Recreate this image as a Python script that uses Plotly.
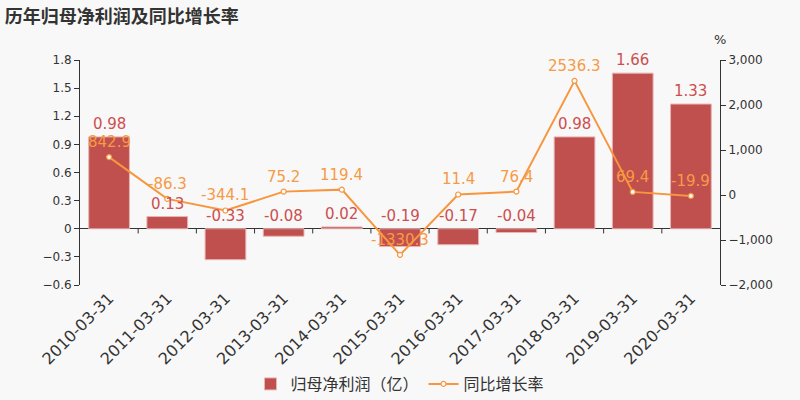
import plotly.graph_objects as go

# data
dates = ["2010-03-31", "2011-03-31", "2012-03-31", "2013-03-31", "2014-03-31",
         "2015-03-31", "2016-03-31", "2017-03-31", "2018-03-31", "2019-03-31",
         "2020-03-31"]
profit = [0.98, 0.13, -0.33, -0.08, 0.02, -0.19, -0.17, -0.04, 0.98, 1.66, 1.33]
growth = [842.9, -86.3, -344.1, 75.2, 119.4, -1330.3, 11.4, 76.4, 2536.3, 69.4, -19.9]

bar_color = "#c0504d"
line_color = "#f7963f"
font_family = "DejaVu Sans, Noto Sans CJK SC"

fig = go.Figure()
fig.add_trace(go.Bar(
    x=dates, y=profit, name="归母净利润（亿）",
    marker=dict(color=bar_color, line=dict(color="#e8b4b4", width=1)),
    width=0.7,
))
fig.add_trace(go.Scatter(
    x=dates, y=growth, name="同比增长率", yaxis="y2",
    mode="lines+markers",
    line=dict(color=line_color, width=2),
    marker=dict(size=5, color="white", line=dict(color=line_color, width=1.2)),
))

# value labels
for d, v in zip(dates, profit):
    fig.add_annotation(x=d, y=max(v, 0), yref="y", text=f"{v:.2f}",
                       showarrow=False, yshift=13,
                       font=dict(size=15, color="#cc4f4f", family=font_family))
for d, v in zip(dates, growth):
    fig.add_annotation(x=d, y=v, yref="y2", text=f"{v:.1f}",
                       showarrow=False, yshift=15,
                       font=dict(size=15, color="#f79a45", family=font_family))

# small ticks on the zero line between categories
for i in range(1, len(dates)):
    fig.add_shape(type="line", xref="x", yref="y",
                  x0=i - 0.5, x1=i - 0.5, y0=0, y1=-0.05,
                  line=dict(color="#333333", width=1))

fig.add_annotation(text="%", xref="paper", yref="paper", x=1.0, y=1.05,
                   xanchor="center", yanchor="bottom", showarrow=False,
                   font=dict(size=13, color="#333333", family=font_family))

fig.update_layout(
    width=800, height=400,
    paper_bgcolor="#f8f8f8", plot_bgcolor="#f8f8f8",
    margin=dict(l=80, r=80, t=60, b=115),
    font=dict(family=font_family, color="#333333"),
    title=dict(text="<b>历年归母净利润及同比增长率</b>", x=0.006, xref="container",
               y=0.958, yref="container", xanchor="left", yanchor="middle",
               font=dict(size=18, color="#333333",
                         family="Noto Sans CJK SC")),
    bargap=0.3,
    showlegend=True,
    legend=dict(orientation="h", x=0.5, xanchor="center", xref="container",
                y=0.04, yanchor="middle", yref="container",
                font=dict(size=16, color="#333333",
                          family="Noto Sans CJK SC"),
                bgcolor="rgba(0,0,0,0)"),
    xaxis=dict(
        type="category", range=[-0.5, len(dates) - 0.5], tickangle=-45,
        showgrid=False, showline=False,
        ticks="", automargin=False, tickfont=dict(size=16, color="#333333"),
    ),
    yaxis=dict(
        range=[-0.6, 1.8], dtick=0.3, tick0=0, showgrid=False,
        showline=True, linecolor="#333333", linewidth=1,
        ticks="outside", ticklen=5, tickcolor="#333333", automargin=False,
        zeroline=True, zerolinecolor="#333333", zerolinewidth=1,
        tickfont=dict(size=12, color="#333333"),
    ),
    yaxis2=dict(
        overlaying="y", side="right", range=[-2000, 3000], dtick=1000,
        tickformat=",", showgrid=False, zeroline=False, automargin=False,
        showline=True, linecolor="#333333", linewidth=1,
        ticks="outside", ticklen=5, tickcolor="#333333",
        tickfont=dict(size=12, color="#333333"),
    ),
)

fig.write_html("out.html", config={"displayModeBar": False},
               post_script="document.body.style.margin='0';")
